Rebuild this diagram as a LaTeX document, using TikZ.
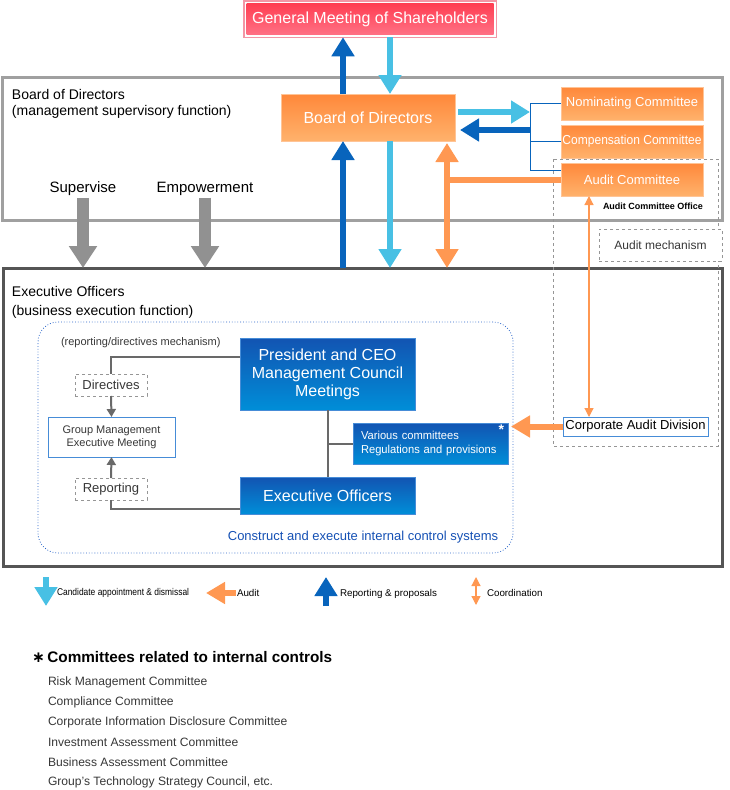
\documentclass[tikz,border=0pt]{standalone}
\usepackage{fontspec}
\setmainfont{Liberation Sans}
\newfontfamily\symfont{DejaVu Sans}
\usetikzlibrary{arrows.meta}

\definecolor{gmtop}{RGB}{255,62,82}
\definecolor{gmbot}{RGB}{255,112,132}
\definecolor{gmedge}{RGB}{243,150,165}
\definecolor{ortop}{RGB}{255,136,58}
\definecolor{orbot}{RGB}{255,178,108}
\definecolor{oredge}{RGB}{255,196,150}
\definecolor{bltop}{RGB}{18,84,178}
\definecolor{blbot}{RGB}{0,142,216}
\definecolor{bledge}{RGB}{70,140,215}
\definecolor{cyanarr}{RGB}{72,192,228}
\definecolor{bluearr}{RGB}{8,100,188}
\definecolor{orarr}{RGB}{255,152,82}
\definecolor{grayarr}{RGB}{145,145,145}
\definecolor{frameA}{RGB}{160,160,160}
\definecolor{frameB}{RGB}{85,85,85}
\definecolor{linegray}{RGB}{105,105,105}
\definecolor{dashgray}{RGB}{150,150,150}
\definecolor{ctrlblue}{RGB}{40,100,200}
\definecolor{textblue}{RGB}{20,80,180}
\definecolor{textgray}{RGB}{55,55,55}

\newcommand{\fsz}[2]{\fontsize{#1}{#2}\selectfont}

\begin{document}
\begin{tikzpicture}[x=1pt, y=-1pt,
    every node/.style={inner sep=0pt, outer sep=0pt},
    orangebox/.style={draw=oredge, top color=ortop, bottom color=orbot,
                      text=white},
    bluebox/.style={draw=bledge, top color=bltop, bottom color=blbot,
                    text=white, align=center},
    whitebox/.style={draw=bledge, fill=white, line width=1pt},
    dashbox/.style={draw=dashgray, dashed, line width=1pt, fill=white,
                    text=textgray},
    frame/.style={draw, line width=3pt},
    candown/.style={draw=cyanarr, line width=6pt,
                    -{Triangle[width=22pt,length=19pt]}},
    repup/.style={draw=bluearr, line width=6pt,
                  -{Triangle[width=22pt,length=19pt]}},
    auditarr/.style={draw=orarr, line width=6pt,
                     -{Triangle[width=21pt,length=19pt]}},
    coordthick/.style={draw=orarr, line width=6pt,
                       {Triangle[width=22pt,length=19pt]}-{Triangle[width=22pt,length=19pt]}},
    coordthin/.style={draw=orarr, line width=1.2pt,
                      {Triangle[width=9pt,length=9pt]}-{Triangle[width=9pt,length=9pt]}},
    bigdown/.style={draw=grayarr, line width=12pt,
                    -{Triangle[width=27pt,length=22pt]}},
    tie/.style={draw=bluearr, line width=1pt},
    link/.style={draw=linegray, line width=2pt},
    linkarr/.style={link, -{Triangle[width=9pt,length=8pt]}}]

  \useasboundingbox (0,0) rectangle (730,790);

  % the two frames
  \node[frame, draw=frameA, minimum width=720pt, minimum height=143pt] (boardframe) at (362,148.5) {};
  \node[frame, draw=frameB, minimum width=719pt, minimum height=298pt] (execframe) at (362.5,417) {};

  \node[anchor=north west, align=left, font=\fsz{14}{16}] (boardlbl) at (12,89) {Board of Directors\\(management supervisory function)};
  \node[anchor=north west, align=left, font=\fsz{14}{19}] (execlbl) at (12,286) {Executive Officers\\(business execution function)};

  % shareholders
  \node[draw=gmedge, line width=1.5pt, minimum width=252.5pt, minimum height=36.5pt] (gmframe) at (370,19) {};
  \node[top color=gmtop, bottom color=gmbot, text=white, minimum width=247pt, minimum height=31pt,
        font=\fsz{16}{18}] (gm) at (370,19) {General Meeting of Shareholders};

  % board and committees
  \node[orangebox, minimum width=174pt, minimum height=47pt, font=\fsz{16}{18}] (bod) at (368,117.5) {Board of Directors};
  \foreach \nm/\y/\st/\txt in {nom/103.5/1/Nominating Committee, comp/141.5/0.925/Compensation Committee,
                               aud/179.5/1/Audit Committee}
    \node[orangebox, minimum width=142pt, minimum height=33pt,
          font=\fsz{13}{15}\addfontfeatures{FakeStretch=\st}] (\nm) at (632,\y) {\txt};
  \node[anchor=east, font=\fsz{9}{11}\bfseries] (aco) at (703,206) {Audit Committee Office};

  % audit mechanism
  \draw[dashgray, dashed, line width=1pt] (553,159) rectangle (718,446);
  \node[dashbox, minimum width=123pt, minimum height=32pt, font=\fsz{12}{14}] (amech) at (660.5,245) {Audit mechanism};
  \node[whitebox, minimum width=145pt, minimum height=19pt, font=\fsz{13}{15}] (cad) at (635.5,426.5) {Corporate Audit Division};

  % executive side
  \node[draw=ctrlblue, dotted, line width=0.8pt, rounded corners=20pt, minimum width=475pt,
        minimum height=231pt] (ctrl) at (275.5,437.5) {};
  \node[anchor=west, font=\fsz{11}{13}, text=textgray] (mechlbl) at (61,343) {(reporting/directives mechanism)};
  \node[bluebox, minimum width=175pt, minimum height=72pt, font=\fsz{16}{18}] (pres) at (327.5,374) {President and CEO\\Management Council\\Meetings};
  \node[bluebox, minimum width=175pt, minimum height=37pt, font=\fsz{16}{18}] (eo) at (327.5,495.5) {Executive Officers};
  \node[bluebox, align=left, inner xsep=8pt, text width=139pt, minimum height=41pt,
        font=\fsz{11.5}{14}\addfontfeatures{FakeStretch=0.97}] (var) at (430.5,443.5) {Various committees\\Regulations and provisions};
  \node[anchor=north east, text=white, font=\fsz{14}{14}\bfseries] (varstar) at ([xshift=-4pt,yshift=-2pt]var.north east) {*};
  \node[dashbox, minimum width=72pt, minimum height=22pt, font=\fsz{13}{15}] (dir) at (111,385) {Directives};
  \node[whitebox, minimum width=127pt, minimum height=40pt, align=center, text=textgray,
        font=\fsz{11}{13}] (gme) at (111.5,437) {Group Management\\Executive Meeting};
  \node[dashbox, minimum width=72pt, minimum height=22pt, font=\fsz{13}{15}] (rep) at (111,489) {Reporting};
  \node[text=textblue, font=\fsz{13}{15}] (ctrllbl) at (363,537) {Construct and execute internal control systems};

  \draw[link] ([yshift=17pt]pres.west) -| (dir.north);
  \draw[linkarr] (dir.south) -- (gme.north);
  \draw[linkarr] (rep.north) -- (gme.south);
  \draw[link] (rep.south) |- ([yshift=-13.5pt]eo.west);
  \draw[link] (pres.south) -- (eo.north);
  \draw[link] (pres.south |- var.west) -- (var.west);

  % supervise / empowerment
  \node[font=\fsz{15}{17}] (sup) at (83,189) {Supervise};
  \node[font=\fsz{15}{17}] (emp) at (205,189) {Empowerment};
  \draw[bigdown] ([yshift=-2pt]sup.south) -- (sup.south |- execframe.north);
  \draw[bigdown] ([yshift=-2pt]emp.south) -- (emp.south |- execframe.north);

  % main arrows
  \coordinate (upx) at (343,0);
  \coordinate (dnx) at (390,0);
  \coordinate (cox) at (447,0);
  \coordinate (cdx) at (589,0);
  \coordinate (brkin) at (530,112);
  \coordinate (brkout) at (530,130);
  \coordinate (brkbot) at (530,170);

  \draw[repup] (upx |- bod.north) -- (upx |- gmframe.south);
  \draw[candown] (dnx |- gmframe.south) -- (dnx |- bod.north);
  \draw[repup] (upx |- execframe.north) -- (upx |- bod.south);
  \draw[candown] (dnx |- bod.south) -- (dnx |- execframe.north);
  \draw[coordthick, shorten <=2pt] (cox |- bod.south) -- (cox |- execframe.north);
  \draw[orarr, line width=6pt] (aud.west) -- (cox |- aud.west);

  \draw[candown, shorten <=3pt] (bod.east |- brkin) -- (brkin);
  \draw[repup, shorten >=5pt] (brkout) -- (bod.east |- brkout);
  \draw[tie] (nom.west) -| (brkbot) -- (aud.west |- brkbot);
  \draw[tie] (comp.west) -- (brkin |- comp.west);

  \draw[coordthin] (cdx |- aud.south) -- (cdx |- cad.north);
  \draw[auditarr, shorten >=-2pt] (cad.west) -- (ctrl.east |- cad.west);

  % legend
  \coordinate (lg1a) at (46,577);
  \coordinate (lg1b) at (46,606);
  \coordinate (lg2a) at (236,593);
  \coordinate (lg2b) at (206,593);
  \coordinate (lg3a) at (326,606);
  \coordinate (lg3b) at (326,577);
  \coordinate (lg4a) at (476,577);
  \coordinate (lg4b) at (476,605);
  \draw[candown] (lg1a) -- (lg1b);
  \draw[auditarr] (lg2a) -- (lg2b);
  \draw[repup] (lg3a) -- (lg3b);
  \draw[coordthin] (lg4a) -- (lg4b);
  \node[anchor=west, font=\fsz{9.8}{11}\addfontfeatures{FakeStretch=0.86}] (lg1) at (57,593) {Candidate appointment \& dismissal};
  \node[anchor=west, font=\fsz{9.8}{11}] (lg2) at (237,593) {Audit};
  \node[anchor=west, font=\fsz{9.8}{11}] (lg3) at (340,594) {Reporting \& proposals};
  \node[anchor=west, font=\fsz{9.8}{11}] (lg4) at (487,593) {Coordination};

  % note on committees
  \node[anchor=west, font=\fsz{15.3}{17}\bfseries] (notetitle) at (32,657) {{\symfont ∗}\,Committees related to internal controls};
  \foreach \txt [count=\i] in {Risk Management Committee, Compliance Committee,
      Corporate Information Disclosure Committee, Investment Assessment Committee,
      Business Assessment Committee, {Group's Technology Strategy Council, etc.}}
    \node[anchor=west, text=textgray, font=\fsz{12.1}{13}] (note\i) at (48,662+20*\i) {\txt};
\end{tikzpicture}
\end{document}
